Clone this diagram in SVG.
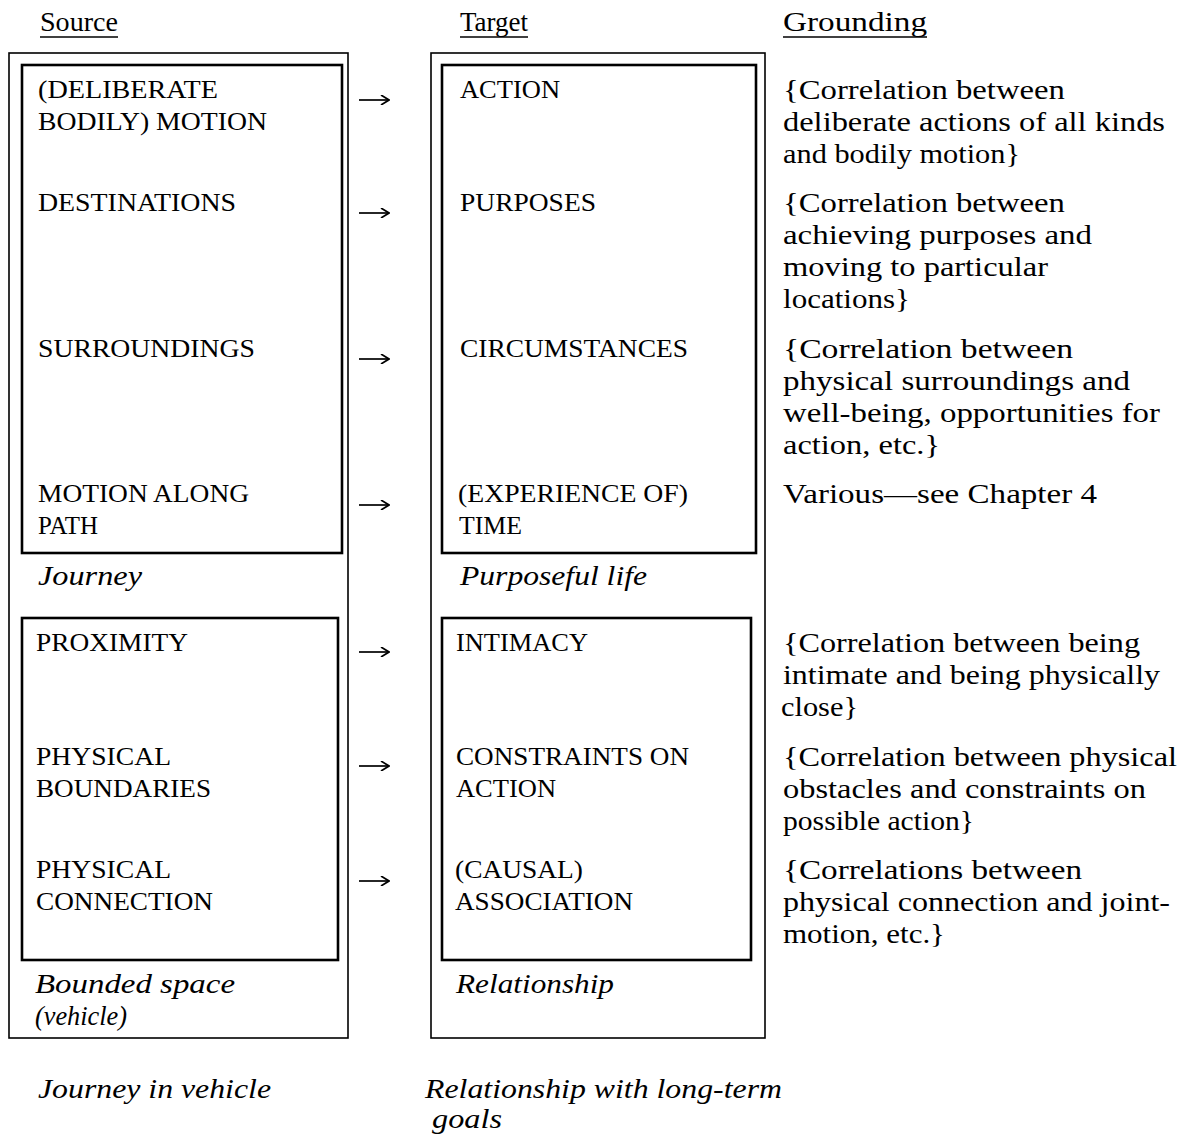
<svg xmlns="http://www.w3.org/2000/svg" width="1186" height="1134" viewBox="0 0 1186 1134">
<style>
text{font-family:"Liberation Serif","Times New Roman",serif;fill:#000;}
.cap{font-size:26px;}
.gr{font-size:28px;}
.it{font-size:28px;font-style:italic;}
.hd{font-size:28px;}
.outer{fill:none;stroke:#000;stroke-width:1.6;}
.inner{fill:none;stroke:#000;stroke-width:2.6;}
.ul{stroke:#000;stroke-width:1.6;}
.arr{stroke:#000;stroke-width:1.7;fill:none;}
</style>
<defs>
<marker id="ah" viewBox="0 0 10 10" refX="9" refY="5" markerWidth="10" markerHeight="10" markerUnits="userSpaceOnUse" orient="auto">
<path d="M1,0 L9,5 L1,10" fill="none" stroke="#000" stroke-width="1.7"/>
</marker>
</defs>
<g id="headers">
<text class="hd" x="40" y="31" textLength="78" lengthAdjust="spacingAndGlyphs">Source</text><line class="ul" x1="40" y1="37" x2="118" y2="37"/>
<text class="hd" x="460" y="31" textLength="68" lengthAdjust="spacingAndGlyphs">Target</text><line class="ul" x1="460" y1="37" x2="528" y2="37"/>
<text class="hd" x="783" y="31" textLength="144" lengthAdjust="spacingAndGlyphs">Grounding</text><line class="ul" x1="783" y1="37" x2="927" y2="37"/>
</g>
<g id="source">
<rect class="outer" x="9" y="53" width="339" height="985"/>
<g id="source-journey">
<rect class="inner" x="22" y="65" width="320" height="488"/>
<text class="cap" x="38" y="98" textLength="180" lengthAdjust="spacingAndGlyphs">(DELIBERATE</text>
<text class="cap" x="38" y="130" textLength="229" lengthAdjust="spacingAndGlyphs">BODILY) MOTION</text>
<text class="cap" x="38" y="211" textLength="198" lengthAdjust="spacingAndGlyphs">DESTINATIONS</text>
<text class="cap" x="38" y="357" textLength="217" lengthAdjust="spacingAndGlyphs">SURROUNDINGS</text>
<text class="cap" x="38" y="502" textLength="211" lengthAdjust="spacingAndGlyphs">MOTION ALONG</text>
<text class="cap" x="38" y="534" textLength="60" lengthAdjust="spacingAndGlyphs">PATH</text>
</g>
<text class="it" x="38" y="585" textLength="104" lengthAdjust="spacingAndGlyphs">Journey</text>
<g id="source-bounded">
<rect class="inner" x="22" y="618" width="316" height="342"/>
<text class="cap" x="36" y="651" textLength="152" lengthAdjust="spacingAndGlyphs">PROXIMITY</text>
<text class="cap" x="36" y="765" textLength="135" lengthAdjust="spacingAndGlyphs">PHYSICAL</text>
<text class="cap" x="36" y="797" textLength="175" lengthAdjust="spacingAndGlyphs">BOUNDARIES</text>
<text class="cap" x="36" y="878" textLength="135" lengthAdjust="spacingAndGlyphs">PHYSICAL</text>
<text class="cap" x="36" y="910" textLength="177" lengthAdjust="spacingAndGlyphs">CONNECTION</text>
</g>
<text class="it" x="35" y="993" textLength="200" lengthAdjust="spacingAndGlyphs">Bounded space</text>
<text class="it" x="35" y="1025" textLength="92" lengthAdjust="spacingAndGlyphs">(vehicle)</text>
</g>
<g id="target">
<rect class="outer" x="431" y="53" width="334" height="985"/>
<g id="target-life">
<rect class="inner" x="442" y="65" width="314" height="488"/>
<text class="cap" x="460" y="98" textLength="100" lengthAdjust="spacingAndGlyphs">ACTION</text>
<text class="cap" x="460" y="211" textLength="136" lengthAdjust="spacingAndGlyphs">PURPOSES</text>
<text class="cap" x="460" y="357" textLength="228" lengthAdjust="spacingAndGlyphs">CIRCUMSTANCES</text>
<text class="cap" x="458" y="502" textLength="230" lengthAdjust="spacingAndGlyphs">(EXPERIENCE OF)</text>
<text class="cap" x="459" y="534" textLength="63" lengthAdjust="spacingAndGlyphs">TIME</text>
</g>
<text class="it" x="460" y="585" textLength="187" lengthAdjust="spacingAndGlyphs">Purposeful life</text>
<g id="target-relationship">
<rect class="inner" x="442" y="618" width="309" height="342"/>
<text class="cap" x="456" y="651" textLength="132" lengthAdjust="spacingAndGlyphs">INTIMACY</text>
<text class="cap" x="456" y="765" textLength="233" lengthAdjust="spacingAndGlyphs">CONSTRAINTS ON</text>
<text class="cap" x="456" y="797" textLength="100" lengthAdjust="spacingAndGlyphs">ACTION</text>
<text class="cap" x="455" y="878" textLength="128" lengthAdjust="spacingAndGlyphs">(CAUSAL)</text>
<text class="cap" x="455" y="910" textLength="178" lengthAdjust="spacingAndGlyphs">ASSOCIATION</text>
</g>
<text class="it" x="456" y="993" textLength="158" lengthAdjust="spacingAndGlyphs">Relationship</text>
</g>
<g id="grounding">
<text class="gr" x="783" y="99" textLength="282" lengthAdjust="spacingAndGlyphs">{Correlation between</text>
<text class="gr" x="783" y="131" textLength="382" lengthAdjust="spacingAndGlyphs">deliberate actions of all kinds</text>
<text class="gr" x="783" y="163" textLength="237" lengthAdjust="spacingAndGlyphs">and bodily motion}</text>
<text class="gr" x="783" y="212" textLength="282" lengthAdjust="spacingAndGlyphs">{Correlation between</text>
<text class="gr" x="783" y="244" textLength="309" lengthAdjust="spacingAndGlyphs">achieving purposes and</text>
<text class="gr" x="783" y="276" textLength="265" lengthAdjust="spacingAndGlyphs">moving to particular</text>
<text class="gr" x="783" y="308" textLength="127" lengthAdjust="spacingAndGlyphs">locations}</text>
<text class="gr" x="783" y="358" textLength="290" lengthAdjust="spacingAndGlyphs">{Correlation  between</text>
<text class="gr" x="783" y="390" textLength="347" lengthAdjust="spacingAndGlyphs">physical surroundings and</text>
<text class="gr" x="783" y="422" textLength="377" lengthAdjust="spacingAndGlyphs">well-being, opportunities for</text>
<text class="gr" x="783" y="454" textLength="157" lengthAdjust="spacingAndGlyphs">action, etc.}</text>
<text class="gr" x="783" y="503" textLength="314" lengthAdjust="spacingAndGlyphs">Various—see Chapter 4</text>
<text class="gr" x="783" y="652" textLength="357" lengthAdjust="spacingAndGlyphs">{Correlation between being</text>
<text class="gr" x="783" y="684" textLength="377" lengthAdjust="spacingAndGlyphs">intimate and being physically</text>
<text class="gr" x="781" y="716" textLength="77" lengthAdjust="spacingAndGlyphs">close}</text>
<text class="gr" x="783" y="766" textLength="394" lengthAdjust="spacingAndGlyphs">{Correlation between physical</text>
<text class="gr" x="783" y="798" textLength="363" lengthAdjust="spacingAndGlyphs">obstacles and constraints on</text>
<text class="gr" x="783" y="830" textLength="191" lengthAdjust="spacingAndGlyphs">possible action}</text>
<text class="gr" x="783" y="879" textLength="299" lengthAdjust="spacingAndGlyphs">{Correlations  between</text>
<text class="gr" x="783" y="911" textLength="387" lengthAdjust="spacingAndGlyphs">physical connection and joint-</text>
<text class="gr" x="783" y="943" textLength="162" lengthAdjust="spacingAndGlyphs">motion, etc.}</text>
</g>
<g id="blends">
<text class="it" x="38" y="1098" textLength="233" lengthAdjust="spacingAndGlyphs">Journey in vehicle</text>
<text class="it" x="425" y="1098" textLength="357" lengthAdjust="spacingAndGlyphs">Relationship with long-term</text>
<text class="it" x="432" y="1128" textLength="70" lengthAdjust="spacingAndGlyphs">goals</text>
</g>
<g id="connectors">
<line class="arr" x1="359" y1="100" x2="389" y2="100" marker-end="url(#ah)"/>
<line class="arr" x1="359" y1="213" x2="389" y2="213" marker-end="url(#ah)"/>
<line class="arr" x1="359" y1="359" x2="389" y2="359" marker-end="url(#ah)"/>
<line class="arr" x1="359" y1="505" x2="389" y2="505" marker-end="url(#ah)"/>
<line class="arr" x1="359" y1="652" x2="389" y2="652" marker-end="url(#ah)"/>
<line class="arr" x1="359" y1="766" x2="389" y2="766" marker-end="url(#ah)"/>
<line class="arr" x1="359" y1="881" x2="389" y2="881" marker-end="url(#ah)"/>
</g>
</svg>
